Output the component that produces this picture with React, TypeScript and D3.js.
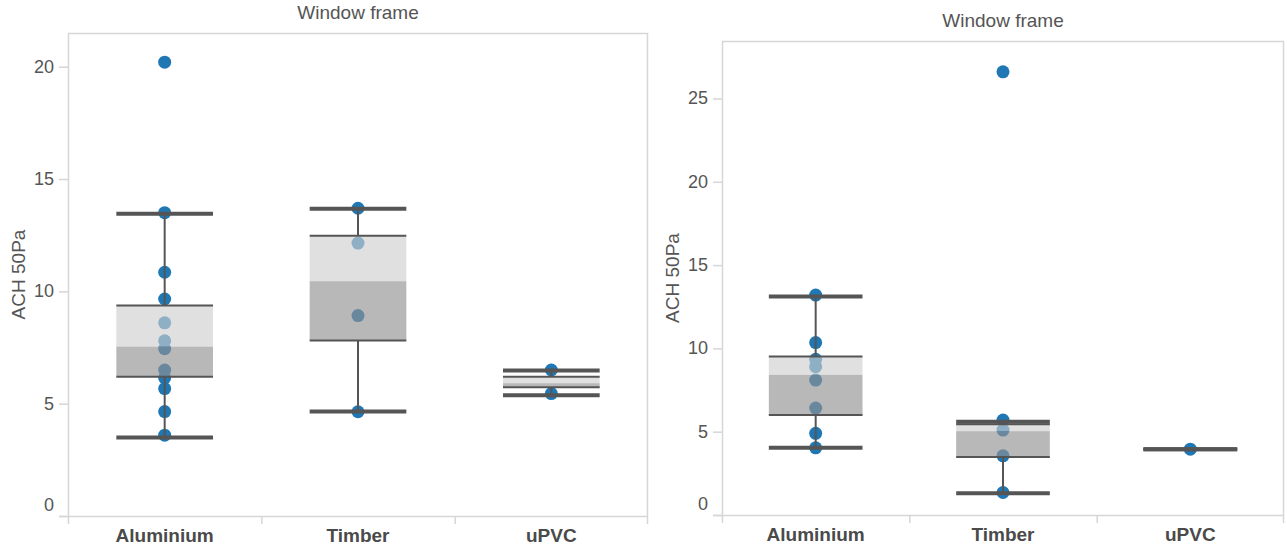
import React from "react";
import * as d3 from "d3";

// ---------- data ----------
const categories = ["Aluminium", "Timber", "uPVC"];
const chartTitle = "Window frame";
const yAxisTitle = "ACH 50Pa";

// Left panel: individual values
const leftAluminium = [20.2, 13.5, 10.85, 9.66, 8.6, 7.8, 7.45, 6.5, 6.15, 5.67, 4.65, 3.6];
const leftTimber = [13.7, 12.15, 8.92, 4.64];
const leftUPVC = [6.5, 5.45];
// Left panel box stats: [lowWhisker, q1, median, q3, highWhisker]
const leftAluminiumBox = [3.49, 6.2, 7.54, 9.37, 13.45];
const leftTimberBox = [4.65, 7.81, 10.45, 12.47, 13.68];
const leftUPVCBox = [5.37, 5.73, 5.91, 6.2, 6.48];
const leftTicks = [0, 5, 10, 15, 20];
const leftMax = 21.5;

// Right panel
const rightAluminium = [13.2, 10.35, 9.35, 8.9, 8.1, 6.42, 4.9, 4.03];
const rightTimber = [26.6, 5.7, 5.1, 3.55, 1.35];
const rightUPVC = [3.95];
const rightAluminiumBox = [4.03, 6.0, 8.41, 9.51, 13.12];
const rightTimberBox = [1.3, 3.48, 5.03, 5.45, 5.6];
const rightUPVCBox = [3.95, 3.95, 3.95, 3.95, 3.95];
const rightTicks = [0, 5, 10, 15, 20, 25];
const rightMax = 28.45;

const FONT = "'Liberation Sans', Arial, sans-serif";
const TEXT = "#555";
const FRAME = "#d6d6d6";
const LINE = "#555";
const DOT = "#1f77b4";

type PanelProps = {
  x0: number;
  x1: number;
  top: number;
  bottom: number;
  max: number;
  ticks: number[];
  points: number[][];
  boxes: number[][];
};

function Panel({ x0, x1, top, bottom, max, ticks, points, boxes }: PanelProps) {
  const x = d3.scaleBand<string>().domain(categories).range([x0, x1]).padding(0);
  const y = d3.scaleLinear().domain([0, max]).range([bottom, top]);
  const bw = x.bandwidth();
  const boxW = bw * 0.5;
  const cx = (c: string) => (x(c) as number) + bw / 2;

  return (
    <g>
      {/* title */}
      <text
        x={(x0 + x1) / 2}
        y={top - 14}
        textAnchor="middle"
        fontFamily={FONT}
        fontSize={19}
        fill={TEXT}
      >
        {chartTitle}
      </text>
      {/* y axis title */}
      <text
        transform={`translate(${x0 - 50},${(top + bottom) / 2}) rotate(-90)`}
        textAnchor="middle"
        dominantBaseline="central"
        fontFamily={FONT}
        fontSize={19}
        fill={TEXT}
      >
        {yAxisTitle}
      </text>
      {/* frame */}
      <line x1={x0 + 0.5} x2={x0 + 0.5} y1={top} y2={bottom} stroke={FRAME} strokeWidth={1.5} />
      <line x1={x1 - 0.5} x2={x1 - 0.5} y1={top} y2={bottom} stroke={FRAME} strokeWidth={1.5} />
      <line x1={x0} x2={x1} y1={top + 0.5} y2={top + 0.5} stroke={FRAME} strokeWidth={1.5} />
      <line x1={x0 - 9} x2={x1} y1={bottom + 0.5} y2={bottom + 0.5} stroke={FRAME} strokeWidth={1.5} />
      {/* y ticks */}
      {ticks.map((t) => (
        <g key={t}>
          <line x1={x0 - 9} x2={x0} y1={y(t) + 0.5} y2={y(t) + 0.5} stroke={FRAME} strokeWidth={1.5} />
          <text
            x={x0 - 14}
            y={t === 0 ? y(t) - 11 : y(t)}
            textAnchor="end"
            dominantBaseline="central"
            fontFamily={FONT}
            fontSize={18}
            fill={TEXT}
          >
            {t}
          </text>
        </g>
      ))}
      {/* x dividers */}
      {[...categories.map((c) => x(c) as number), x1].map((v, i) => (
        <line
          key={i}
          x1={i === categories.length ? v - 0.5 : v + 0.5}
          x2={i === categories.length ? v - 0.5 : v + 0.5}
          y1={bottom}
          y2={bottom + 8}
          stroke={FRAME}
          strokeWidth={1.5}
        />
      ))}
      {/* category labels */}
      {categories.map((c) => (
        <text
          key={c}
          x={cx(c)}
          y={bottom + 26}
          textAnchor="middle"
          fontFamily={FONT}
          fontSize={19}
          fontWeight="bold"
          fill="#4a4a4a"
        >
          {c}
        </text>
      ))}
      {/* dots */}
      {categories.map((c, i) =>
        points[i].map((v, j) => (
          <circle key={c + j} cx={cx(c)} cy={y(v)} r={6.5} fill={DOT} />
        ))
      )}
      {/* boxes */}
      {categories.map((c, i) => {
        const [lo, q1, med, q3, hi] = boxes[i];
        const left = cx(c) - boxW / 2;
        return (
          <g key={c}>
            <rect x={left} y={y(q3)} width={boxW} height={y(med) - y(q3)} fill="#cecece" fillOpacity={0.64} />
            <rect x={left} y={y(med)} width={boxW} height={y(q1) - y(med)} fill="#929292" fillOpacity={0.65} />
            <line x1={cx(c)} x2={cx(c)} y1={y(hi)} y2={y(q3)} stroke={LINE} strokeWidth={2} />
            <line x1={cx(c)} x2={cx(c)} y1={y(q1)} y2={y(lo)} stroke={LINE} strokeWidth={2} />
            <line x1={left} x2={left + boxW} y1={y(q3)} y2={y(q3)} stroke={LINE} strokeWidth={2} />
            <line x1={left} x2={left + boxW} y1={y(q1)} y2={y(q1)} stroke={LINE} strokeWidth={2} />
            <line x1={left} x2={left + boxW} y1={y(hi)} y2={y(hi)} stroke={LINE} strokeWidth={4} />
            <line x1={left} x2={left + boxW} y1={y(lo)} y2={y(lo)} stroke={LINE} strokeWidth={4} />
          </g>
        );
      })}
    </g>
  );
}

export default function App() {
  return (
    <svg
      width={1287}
      height={549}
      style={{ position: "absolute", left: 0, top: 0, background: "#fff" }}
    >
      <rect width={1287} height={549} fill="#fff" />
      <Panel
        x0={68}
        x1={648}
        top={33}
        bottom={516}
        max={leftMax}
        ticks={leftTicks}
        points={[leftAluminium, leftTimber, leftUPVC]}
        boxes={[leftAluminiumBox, leftTimberBox, leftUPVCBox]}
      />
      <Panel
        x0={722}
        x1={1284}
        top={41}
        bottom={515}
        max={rightMax}
        ticks={rightTicks}
        points={[rightAluminium, rightTimber, rightUPVC]}
        boxes={[rightAluminiumBox, rightTimberBox, rightUPVCBox]}
      />
    </svg>
  );
}
